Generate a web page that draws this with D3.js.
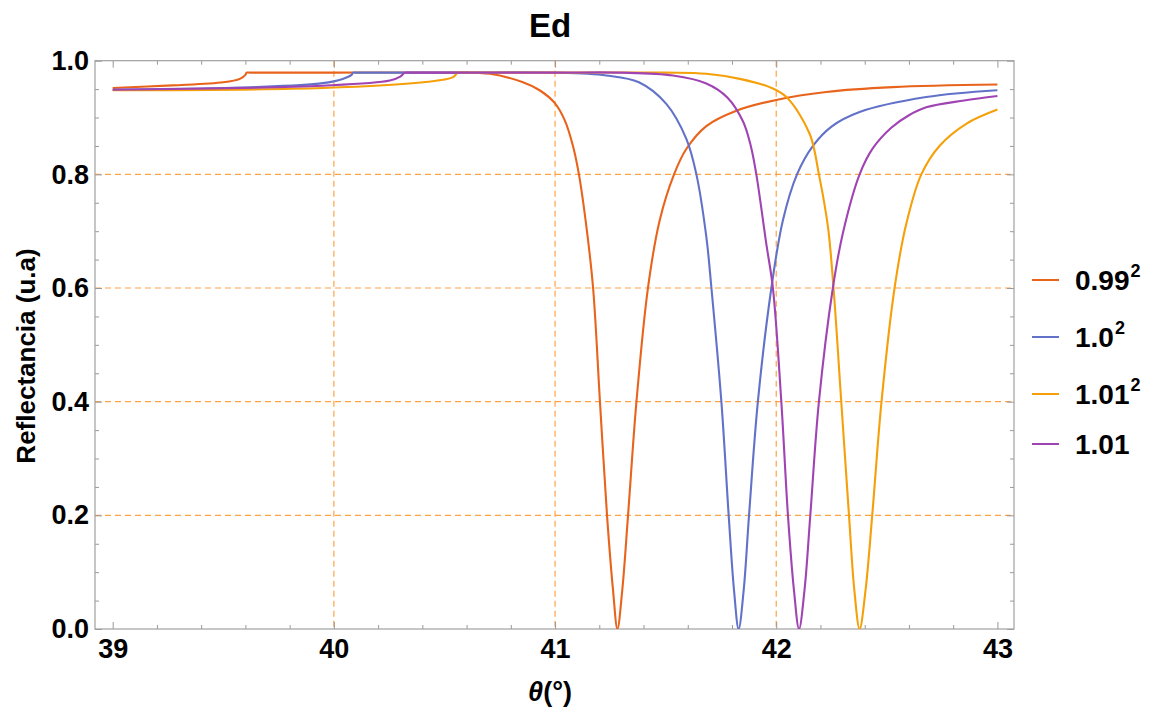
<!DOCTYPE html>
<html>
<head>
<meta charset="utf-8">
<script src="https://cdn.jsdelivr.net/npm/d3@7"></script>
<style>
  html, body { margin: 0; padding: 0; background: #fff; }
  svg { display: block; font-family: "Liberation Sans", Arial, sans-serif; }
</style>
</head>
<body>
<svg id="chart" width="1151" height="710"></svg>
<script>
// ---- data ----
const seriesNames = ["0.99", "1.0", "1.01", "1.01"];
const seriesSup = ["2", "2", "2", ""];
const seriesColors = ["#e8641c", "#6272c8", "#f5a00a", "#a044b4"];

const curve099 = [
  [39.00, 0.952], [39.27, 0.9565], [39.50, 0.962], [39.575, 0.968], [39.60, 0.975], [39.605, 0.979],
  [39.62, 0.979], [39.75, 0.979], [40.00, 0.979], [40.50, 0.979], [40.706, 0.977], [40.855, 0.962],
  [40.93, 0.948], [41.00, 0.925], [41.044, 0.895], [41.081, 0.850], [41.108, 0.80], [41.142, 0.707],
  [41.172, 0.60], [41.203, 0.40], [41.235, 0.20], [41.262, 0.069], [41.282, 0.0], [41.304, 0.069],
  [41.330, 0.20], [41.368, 0.40], [41.420, 0.60], [41.473, 0.719], [41.538, 0.80], [41.594, 0.845],
  [41.684, 0.885], [41.82, 0.912], [42.00, 0.931], [42.226, 0.945], [42.527, 0.9535], [43.00, 0.958]
];
const curve100 = [
  [39.00, 0.949], [39.65, 0.9535], [39.95, 0.9605], [40.04, 0.968], [40.08, 0.975], [40.087, 0.979],
  [40.10, 0.979], [40.20, 0.979], [40.50, 0.979], [41.00, 0.979], [41.232, 0.974], [41.379, 0.962],
  [41.503, 0.924], [41.594, 0.862], [41.639, 0.80], [41.684, 0.690], [41.707, 0.60], [41.752, 0.40],
  [41.785, 0.20], [41.809, 0.069], [41.830, 0.0], [41.853, 0.069], [41.877, 0.20], [41.917, 0.40],
  [41.978, 0.60], [42.030, 0.719], [42.094, 0.80], [42.166, 0.850], [42.25, 0.884], [42.377, 0.9096],
  [42.678, 0.936], [43.00, 0.948]
];
const curve101sq = [
  [39.00, 0.948], [39.95, 0.952], [40.404, 0.962], [40.539, 0.971], [40.56, 0.979],
  [40.575, 0.979], [40.70, 0.979], [41.00, 0.979], [41.50, 0.979], [41.684, 0.977], [41.835, 0.968],
  [41.97, 0.9535], [42.046, 0.936], [42.151, 0.8715], [42.193, 0.80], [42.234, 0.707], [42.259, 0.60],
  [42.294, 0.40], [42.329, 0.20], [42.353, 0.069], [42.377, 0.0], [42.404, 0.069], [42.434, 0.20],
  [42.476, 0.40], [42.535, 0.60], [42.588, 0.713], [42.656, 0.80], [42.738, 0.850], [42.859, 0.889],
  [43.00, 0.914]
];
const curve101 = [
  [39.00, 0.949], [39.95, 0.956], [40.253, 0.965], [40.30, 0.972], [40.321, 0.979],
  [40.335, 0.979], [40.45, 0.979], [41.00, 0.979], [41.30, 0.979], [41.533, 0.974], [41.684, 0.960],
  [41.78, 0.935], [41.85, 0.893], [41.885, 0.850], [41.91, 0.80], [41.955, 0.678], [41.985, 0.60],
  [42.023, 0.40], [42.053, 0.20], [42.080, 0.069], [42.103, 0.0], [42.128, 0.069], [42.154, 0.20],
  [42.193, 0.40], [42.256, 0.60], [42.301, 0.696], [42.377, 0.80], [42.437, 0.846], [42.52, 0.882],
  [42.60, 0.904], [42.678, 0.918], [42.85, 0.930], [43.00, 0.938]
];
const allCurves = [curve099, curve100, curve101sq, curve101];

const xMajorTicks = [39, 40, 41, 42, 43];
const xGrid = [40, 41, 42];
const yMajorTicks = [0.0, 0.2, 0.4, 0.6, 0.8, 1.0];
const yGrid = [0.2, 0.4, 0.6, 0.8];

// ---- layout ----
const L = 95, R = 1014, T = 60.7, B = 629;
const svg = d3.select("#chart");
const x = d3.scaleLinear().domain([38.92, 43.075]).range([L, R]);
const y = d3.scaleLinear().domain([0, 1]).range([B, T]);

const xMinor = d3.range(38.92, 43.08, 0.2).map(v => Math.round(v * 5) / 5).filter(v => v >= 38.92 && v <= 43.08 && !xMajorTicks.includes(v));
const yMinor = d3.range(0, 1.0001, 0.05).map(v => Math.round(v * 20) / 20).filter(v => !yMajorTicks.some(t => Math.abs(t - v) < 1e-9));

// grid
const gridColor = "#ff9a30";
svg.append("g").selectAll("line").data(xGrid).join("line")
  .attr("x1", d => x(d)).attr("x2", d => x(d)).attr("y1", T).attr("y2", B)
  .attr("stroke", gridColor).attr("stroke-width", 1.2).attr("stroke-dasharray", "6,4").attr("opacity", 0.9);
svg.append("g").selectAll("line").data(yGrid).join("line")
  .attr("x1", L).attr("x2", R).attr("y1", d => y(d)).attr("y2", d => y(d))
  .attr("stroke", gridColor).attr("stroke-width", 1.2).attr("stroke-dasharray", "6,4").attr("opacity", 0.9);

// axes (ticks inward)
const tickFont = g => g.selectAll("text").attr("font-size", 27).attr("font-weight", "bold").attr("fill", "#000")
  .attr("font-family", "'Liberation Sans', Arial, sans-serif");
const clean = g => { g.select(".domain").remove(); g.selectAll(".tick line").attr("stroke", "#999"); };

svg.append("g").attr("transform", `translate(0,${B})`)
  .call(d3.axisBottom(x).tickValues(xMajorTicks).tickFormat(d3.format("d")).tickSize(-7).tickPadding(10))
  .call(clean).call(tickFont);
svg.append("g").attr("transform", `translate(0,${B})`)
  .call(d3.axisBottom(x).tickValues(xMinor).tickFormat("").tickSize(-4)).call(clean);
svg.append("g").attr("transform", `translate(0,${T})`)
  .call(d3.axisTop(x).tickValues(xMajorTicks).tickFormat("").tickSize(-7)).call(clean);
svg.append("g").attr("transform", `translate(0,${T})`)
  .call(d3.axisTop(x).tickValues(xMinor).tickFormat("").tickSize(-4)).call(clean);

svg.append("g").attr("transform", `translate(${L},0)`)
  .call(d3.axisLeft(y).tickValues(yMajorTicks).tickFormat(d3.format(".1f")).tickSize(-7).tickPadding(6))
  .call(clean).call(tickFont);
svg.append("g").attr("transform", `translate(${L},0)`)
  .call(d3.axisLeft(y).tickValues(yMinor).tickFormat("").tickSize(-4)).call(clean);
svg.append("g").attr("transform", `translate(${R},0)`)
  .call(d3.axisRight(y).tickValues(yMajorTicks).tickFormat("").tickSize(-7)).call(clean);
svg.append("g").attr("transform", `translate(${R},0)`)
  .call(d3.axisRight(y).tickValues(yMinor).tickFormat("").tickSize(-4)).call(clean);

// frame
svg.append("rect").attr("x", L).attr("y", T).attr("width", R - L).attr("height", B - T)
  .attr("fill", "none").attr("stroke", "#a0a0a0").attr("stroke-width", 1.2);

// curves
svg.append("clipPath").attr("id", "plotclip").append("rect")
  .attr("x", L).attr("y", T - 2).attr("width", R - L).attr("height", B - T + 2);
const line = d3.line().x(d => x(d[0])).y(d => y(d[1])).curve(d3.curveCatmullRom.alpha(0.5));
svg.append("g").attr("clip-path", "url(#plotclip)").selectAll("path").data(allCurves).join("path")
  .attr("d", line).attr("fill", "none")
  .attr("stroke", (d, i) => seriesColors[i]).attr("stroke-width", 2.1)
  .attr("stroke-linejoin", "round");

// title
svg.append("text").attr("x", 550).attr("y", 37).attr("text-anchor", "middle")
  .attr("font-size", 33).attr("font-weight", "bold").text("Ed");

// axis labels
svg.append("text").attr("transform", "translate(35,356) rotate(-90)").attr("text-anchor", "middle")
  .attr("font-size", 26).attr("font-weight", "bold").text("Reflectancia (u.a)");
const xl = svg.append("text").attr("x", 550).attr("y", 701).attr("text-anchor", "middle")
  .attr("font-size", 27).attr("font-weight", "bold");
xl.append("tspan").attr("font-style", "italic").text("θ");
xl.append("tspan").text("(°)");

// legend
const legY = [280, 337, 394, 444];
const leg = svg.append("g");
seriesNames.forEach((name, i) => {
  leg.append("line").attr("x1", 1032).attr("x2", 1059).attr("y1", legY[i]).attr("y2", legY[i])
    .attr("stroke", seriesColors[i]).attr("stroke-width", 2);
  const t = leg.append("text").attr("x", 1075).attr("y", legY[i] + 10)
    .attr("font-size", 28).attr("font-weight", "bold").text(name);
  if (seriesSup[i]) {
    t.append("tspan").attr("font-size", 18).attr("dy", -13).attr("dx", 1).text(seriesSup[i]);
  }
});
</script>
</body>
</html>
